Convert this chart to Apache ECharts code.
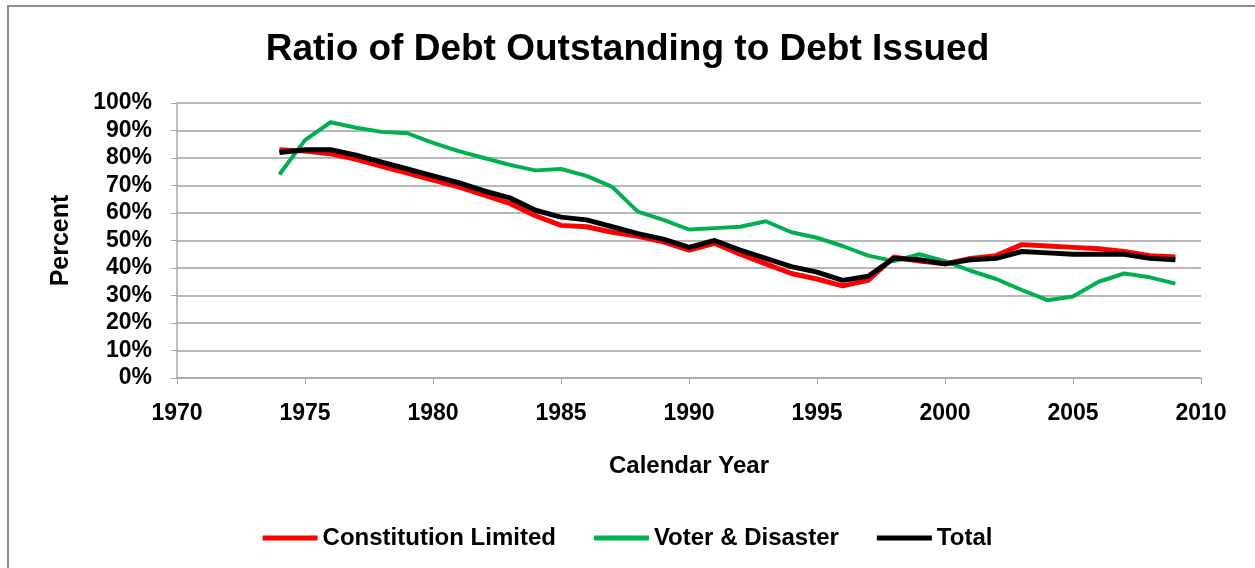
<!DOCTYPE html>
<html>
<head>
<meta charset="utf-8">
<script src="https://cdn.jsdelivr.net/npm/echarts@6/dist/echarts.min.js"></script>
<style>
  html, body { margin: 0; padding: 0; background: #fff; }
  #chart { width: 1255px; height: 568px; }
</style>
</head>
<body>
<div id="chart"></div>
<script>
// years and ratios (percent)
const years = [1974, 1975, 1976, 1977, 1978, 1979, 1980, 1981, 1982, 1983, 1984, 1985,
  1986, 1987, 1988, 1989, 1990, 1991, 1992, 1993, 1994, 1995, 1996, 1997, 1998, 1999,
  2000, 2001, 2002, 2003, 2004, 2005, 2006, 2007, 2008, 2009];
const constitutionLimited = [83, 82.5, 81.5, 79.5, 77, 74.5, 72, 69.5, 66.5, 63.5, 59, 55.5,
  55, 53, 51.5, 49.5, 46.5, 49, 45, 41.5, 38, 36, 33.5, 35.5, 44, 42.5,
  41.5, 43.5, 44.5, 48.5, 48, 47.5, 47, 46, 44.5, 44];
const voterDisaster = [74, 86.5, 93, 91, 89.5, 89, 85.5, 82.5, 80, 77.5, 75.5, 76,
  73.5, 69.5, 60.5, 57.5, 54, 54.5, 55, 57, 53, 51, 48, 44.5, 42.5, 45,
  42.5, 39, 36, 32, 28.3, 29.6, 35, 38, 36.6, 34.3];
const total = [82, 83, 83, 81, 78.5, 76, 73.5, 71, 68, 65.5, 61, 58.5,
  57.5, 55, 52.5, 50.5, 47.5, 50, 46.5, 43.5, 40.5, 38.5, 35.5, 37, 43.5, 43,
  41.5, 43, 43.5, 46, 45.5, 45, 45, 45, 43.5, 43];

const seriesNames = ["Constitution Limited", "Voter & Disaster", "Total"];
const seriesColors = ["#ff0000", "#00b050", "#000000"];

const font = "Liberation Sans, Arial, sans-serif";

function pairs(vals) {
  return years.map((y, i) => [y, vals[i]]);
}

const chart = echarts.init(document.getElementById("chart"));

const option = {
  animation: false,
  textStyle: { fontFamily: font },
  graphic: [
    {
      type: "rect",
      shape: { x: 8, y: 6, width: 1300, height: 600 },
      style: { fill: "none", stroke: "#8c8c8c", lineWidth: 2 },
      silent: true
    }
  ],
  title: {
    text: "Ratio of Debt Outstanding to Debt Issued",
    left: "center",
    top: 26,
    textStyle: { fontFamily: font, fontSize: 37, fontWeight: "bold", color: "#000" }
  },
  legend: {
    top: 521,
    left: "center",
    itemWidth: 55,
    itemHeight: 5,
    itemGap: 38,
    icon: "rect",
    data: seriesNames,
    textStyle: { fontFamily: font, fontSize: 24, fontWeight: "bold", color: "#000" }
  },
  grid: { left: 177, right: 54, top: 103, bottom: 190 },
  xAxis: {
    type: "value",
    min: 1970,
    max: 2010,
    interval: 5,
    name: "Calendar Year",
    nameLocation: "middle",
    nameGap: 76,
    nameTextStyle: { fontFamily: font, fontSize: 24, fontWeight: "bold", color: "#000" },
    axisLine: { lineStyle: { color: "#a6a6a6", width: 1.5 } },
    axisTick: { show: true, length: 6, lineStyle: { color: "#a6a6a6" } },
    splitLine: { show: false },
    axisLabel: {
      margin: 24,
      fontFamily: font, fontSize: 23, fontWeight: "bold", color: "#000",
      formatter: v => String(v)
    }
  },
  yAxis: {
    type: "value",
    min: 0,
    max: 100,
    interval: 10,
    name: "Percent",
    nameLocation: "middle",
    nameGap: 103,
    nameTextStyle: { fontFamily: font, fontSize: 25, fontWeight: "bold", color: "#000" },
    axisLine: { show: true, lineStyle: { color: "#a6a6a6", width: 1.5 } },
    axisTick: { show: true, length: 6, lineStyle: { color: "#a6a6a6" } },
    splitLine: { show: true, lineStyle: { color: "#a0a0a0", width: 1.5 } },
    axisLabel: {
      margin: 25,
      fontFamily: font, fontSize: 23, fontWeight: "bold", color: "#000",
      formatter: v => v + "%"
    }
  },
  series: [
    {
      name: seriesNames[0], type: "line", data: pairs(constitutionLimited),
      showSymbol: false, color: seriesColors[0], lineStyle: { width: 5 }, z: 3
    },
    {
      name: seriesNames[1], type: "line", data: pairs(voterDisaster),
      showSymbol: false, color: seriesColors[1], lineStyle: { width: 4 }, z: 2
    },
    {
      name: seriesNames[2], type: "line", data: pairs(total),
      showSymbol: false, color: seriesColors[2], lineStyle: { width: 5 }, z: 4
    }
  ]
};

chart.setOption(option);

window.addEventListener("resize", function() {
  chart.resize();
});
</script>
</body>
</html>
